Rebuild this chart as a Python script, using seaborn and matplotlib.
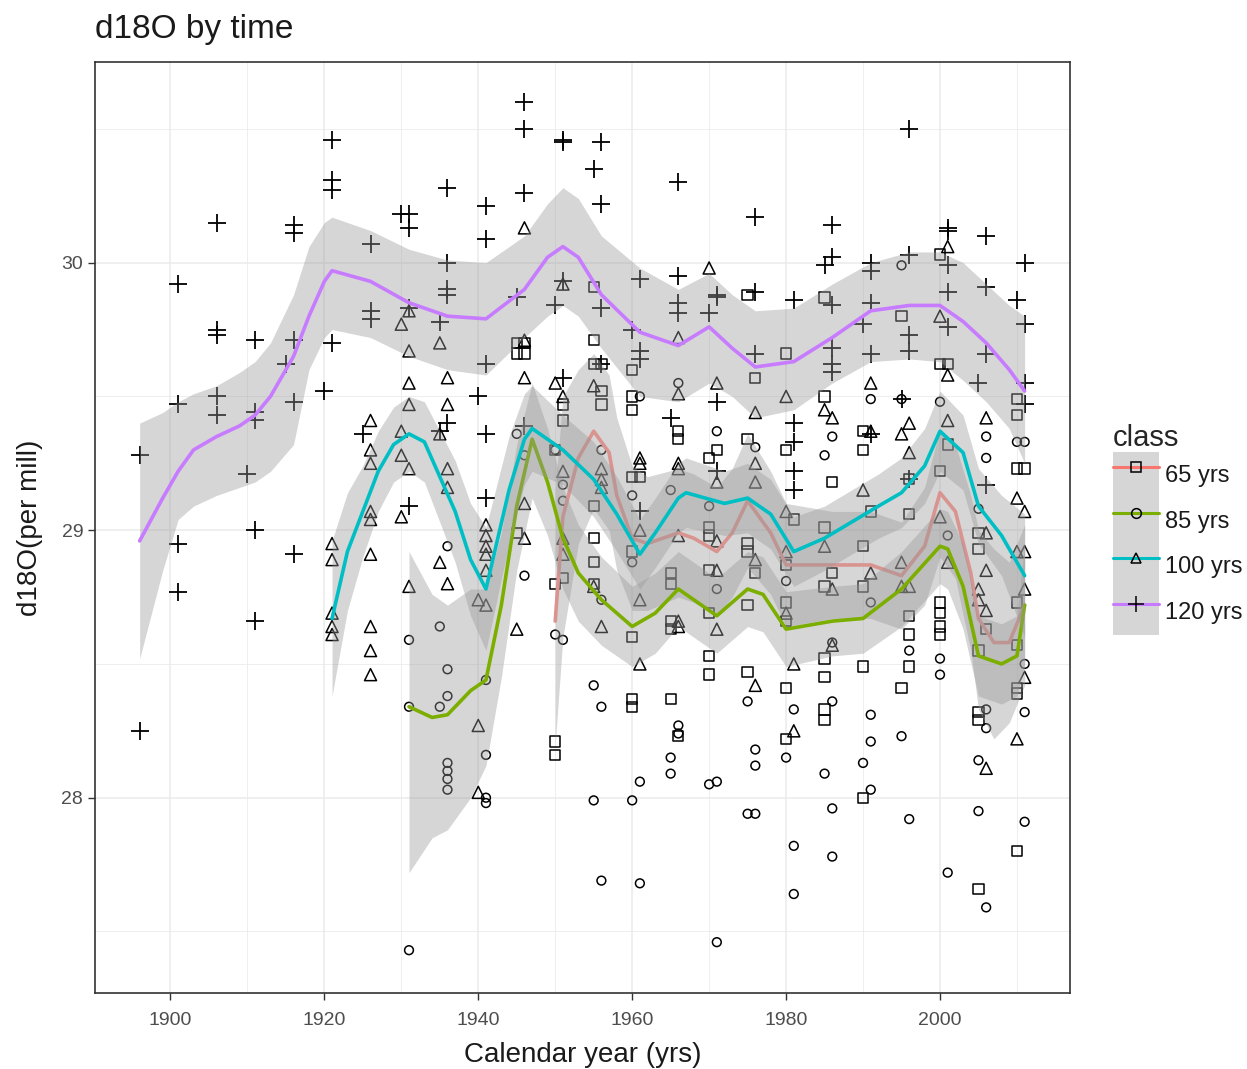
import numpy as np
import pandas as pd
import matplotlib
matplotlib.use("Agg")
import matplotlib.pyplot as plt
from matplotlib.patches import Patch
from matplotlib.lines import Line2D
from matplotlib.legend_handler import HandlerTuple
from matplotlib.ticker import MultipleLocator
import seaborn as sns

# ---------------- data: points ----------------
pts_120 = {
    1896: [29.28, 28.25], 1901: [29.92, 29.47, 28.95, 28.77],
    1906: [30.15, 29.75, 29.73, 29.50, 29.43], 1910: [29.21],
    1911: [29.71, 29.44, 29.41, 29.00, 28.66], 1915: [29.62],
    1916: [30.14, 30.11, 29.71, 29.48, 28.91], 1920: [29.52],
    1921: [30.46, 30.31, 30.27, 29.70], 1925: [29.36],
    1926: [30.07, 29.82, 29.79], 1930: [30.18],
    1931: [30.18, 30.13, 29.83, 29.09], 1935: [29.78, 29.37],
    1936: [30.28, 30.00, 29.90, 29.88, 29.40], 1940: [29.50],
    1941: [30.21, 30.09, 29.62, 29.36, 29.12], 1945: [29.87],
    1946: [30.60, 30.50, 30.26, 29.39], 1950: [29.84],
    1951: [30.46, 30.45, 29.93, 29.57], 1955: [30.35],
    1956: [30.45, 30.22, 29.83, 29.62], 1960: [29.75],
    1961: [29.94, 29.67, 29.64, 29.07], 1965: [29.42],
    1966: [30.30, 29.95, 29.85, 29.81], 1970: [29.81],
    1971: [29.88, 29.87, 29.48, 29.22], 1976: [30.17, 29.89, 29.66],
    1981: [29.86, 29.40, 29.33, 29.22, 29.15], 1985: [29.99],
    1986: [30.14, 30.02, 29.84, 29.68, 29.62, 29.59], 1990: [29.77],
    1991: [30.00, 29.97, 29.85, 29.66, 29.36], 1995: [29.49],
    1996: [30.50, 30.03, 29.73, 29.67, 29.19],
    2001: [30.13, 30.12, 29.99, 29.89, 29.76], 2005: [29.55],
    2006: [30.10, 29.91, 29.66, 29.17], 2010: [29.86],
    2011: [30.00, 29.77, 29.55, 29.47],
}
pts_100 = {
    1921: [28.95, 28.89, 28.69, 28.64, 28.61],
    1926: [29.41, 29.30, 29.25, 29.07, 29.04, 28.91, 28.64, 28.55, 28.46],
    1930: [29.77, 29.37, 29.28, 29.05],
    1931: [29.82, 29.67, 29.55, 29.47, 29.23, 28.79],
    1935: [29.70, 29.36, 28.88], 1936: [29.57, 29.47, 29.23, 29.16, 28.80],
    1940: [28.27, 28.02, 28.74], 1941: [29.02, 28.98, 28.94, 28.91, 28.85, 28.72],
    1945: [28.63], 1946: [30.13, 29.71, 29.57, 29.10, 28.97], 1950: [29.55],
    1951: [29.92, 29.50, 29.22, 28.97, 28.91], 1955: [29.54, 28.79],
    1956: [29.23, 29.19, 29.16, 28.64], 1961: [29.27, 29.25, 29.00, 28.74, 28.50],
    1966: [29.72, 29.51, 29.25, 29.23, 28.98, 28.66, 28.64], 1970: [29.98],
    1971: [29.55, 29.18, 28.96, 28.85, 28.63], 1976: [29.44, 29.18, 29.25, 28.89, 28.42],
    1980: [29.50, 29.07, 28.92, 28.69], 1981: [28.50, 28.25],
    1985: [29.45, 28.94], 1986: [29.42, 28.78, 28.57], 1990: [29.15],
    1991: [29.55, 29.37, 28.84], 1995: [29.36, 28.88, 28.79],
    1996: [29.40, 29.29, 28.79], 2000: [29.05, 29.80],
    2001: [30.06, 29.58, 29.41, 28.88], 2005: [28.78, 28.74],
    2006: [29.42, 28.99, 28.85, 28.70, 28.11], 2010: [29.12, 28.92, 28.22],
    2011: [29.07, 28.92, 28.78, 28.45],
}
pts_85 = {
    1931: [28.59, 28.34, 27.43], 1935: [28.64, 28.34],
    1936: [28.94, 28.48, 28.38, 28.13, 28.10, 28.07, 28.03],
    1941: [28.44, 28.16, 28.00, 27.98], 1945: [29.36], 1946: [29.28, 28.83],
    1950: [29.30, 28.61], 1951: [29.17, 29.11, 28.59], 1955: [28.42, 27.99],
    1956: [29.30, 28.74, 28.34, 27.69], 1960: [29.13, 28.88, 27.99],
    1961: [29.50, 28.06, 27.68], 1965: [29.15, 28.15, 28.09],
    1966: [29.55, 28.27, 28.24], 1970: [29.09, 28.05],
    1971: [29.37, 28.78, 28.06, 27.46], 1975: [28.36, 27.94],
    1976: [29.31, 28.18, 28.12, 27.94], 1980: [28.81, 28.15],
    1981: [28.33, 27.82, 27.64], 1985: [29.28, 28.09],
    1986: [29.35, 28.58, 28.36, 27.96, 27.78], 1990: [28.13],
    1991: [29.49, 28.73, 28.31, 28.21, 28.03], 1995: [29.99, 29.49, 28.23],
    1996: [28.55, 27.92], 2000: [29.48, 28.52, 28.46], 2001: [28.98, 27.72],
    2005: [29.08, 28.14, 27.95], 2006: [29.35, 29.27, 28.33, 28.26, 27.59],
    2010: [29.33], 2011: [29.33, 28.50, 28.32, 27.91],
}
pts_65 = {
    1945: [28.99, 29.66, 29.70], 1946: [29.70, 29.66],
    1950: [28.80, 28.21, 28.16, 29.30], 1951: [29.41, 29.47, 28.82],
    1955: [29.91, 29.71, 29.62, 29.09, 28.97, 28.88, 28.80],
    1956: [29.62, 29.52, 29.47],
    1960: [29.60, 29.50, 29.45, 29.20, 28.92, 28.60, 28.37, 28.34], 1961: [29.20],
    1965: [28.84, 28.80, 28.66, 28.63, 28.37], 1966: [29.37, 29.34, 28.23],
    1970: [29.27, 29.01, 28.98, 28.85, 28.69, 28.53, 28.46], 1971: [29.30],
    1975: [29.88, 29.34, 28.95, 28.92, 28.72, 28.47], 1976: [29.57, 28.84],
    1980: [29.66, 29.30, 28.87, 28.73, 28.66, 28.41, 28.22], 1981: [29.04],
    1985: [29.87, 29.50, 29.01, 28.79, 28.52, 28.45, 28.33, 28.29],
    1986: [29.18, 28.84], 1990: [29.37, 29.30, 28.94, 28.79, 28.49, 28.00],
    1991: [29.07], 1995: [29.80, 28.41], 1996: [29.19, 29.06, 28.68, 28.61, 28.49],
    2000: [30.03, 29.62, 29.22, 28.73, 28.69, 28.64, 28.61], 2001: [29.62, 29.32],
    2005: [28.99, 28.93, 28.55, 28.32, 28.29, 27.66], 2006: [28.63],
    2010: [29.49, 29.43, 29.23, 28.73, 28.57, 28.41, 28.39, 27.80], 2011: [29.23],
}

# ---------------- data: smoother lines and bands ----------------
sm65_year = [1950, 1951, 1953, 1955, 1957, 1958, 1960, 1962, 1966, 1968, 1971, 1973, 1975,
             1978, 1980, 1986, 1991, 1995, 1998, 2000, 2002, 2004, 2005, 2007, 2009, 2011]
sm65_fit = [28.66, 29.05, 29.27, 29.37, 29.29, 29.13, 28.97, 28.95, 28.99, 28.97, 28.92, 28.99, 29.11,
            28.99, 28.87, 28.87, 28.87, 28.83, 28.94, 29.14, 29.07, 28.84, 28.67, 28.58, 28.58, 28.72]
sm65_lo = [28.20, 28.60, 28.95, 29.08, 29.00, 28.85, 28.70, 28.70, 28.75, 28.73, 28.68, 28.75, 28.86,
           28.76, 28.64, 28.67, 28.67, 28.63, 28.72, 28.90, 28.82, 28.55, 28.33, 28.22, 28.28, 28.42]
sm65_hi = [29.15, 29.50, 29.60, 29.66, 29.58, 29.42, 29.24, 29.20, 29.23, 29.21, 29.16, 29.23, 29.36,
           29.22, 29.10, 29.07, 29.07, 29.03, 29.16, 29.38, 29.32, 29.13, 29.00, 28.93, 28.88, 29.02]

sm85_year = [1931, 1934, 1936, 1939, 1941, 1943, 1945, 1947, 1949, 1951, 1953, 1956, 1960, 1963, 1966,
             1968, 1971, 1975, 1977, 1980, 1986, 1990, 1995, 2000, 2001, 2003, 2005, 2008, 2010, 2011]
sm85_fit = [28.34, 28.30, 28.31, 28.40, 28.44, 28.72, 29.09, 29.34, 29.18, 28.97, 28.84, 28.74, 28.64,
            28.69, 28.78, 28.74, 28.68, 28.78, 28.76, 28.63, 28.66, 28.67, 28.78, 28.94, 28.93, 28.79,
            28.53, 28.50, 28.53, 28.72]
sm85_lo = [27.72, 27.85, 27.88, 28.00, 28.12, 28.45, 28.85, 29.12, 28.98, 28.78, 28.66, 28.57, 28.49,
           28.54, 28.64, 28.60, 28.54, 28.64, 28.62, 28.49, 28.53, 28.54, 28.64, 28.80, 28.78, 28.63,
           28.38, 28.35, 28.38, 28.50]
sm85_hi = [28.92, 28.76, 28.72, 28.78, 28.78, 28.99, 29.32, 29.55, 29.38, 29.16, 29.02, 28.90, 28.79,
           28.84, 28.92, 28.88, 28.82, 28.92, 28.90, 28.77, 28.79, 28.80, 28.92, 29.08, 29.07, 28.95,
           28.68, 28.65, 28.68, 28.95]

sm100_year = [1921, 1923, 1925, 1927, 1929, 1931, 1933, 1935, 1937, 1939, 1941, 1944, 1946, 1947, 1951,
              1955, 1958, 1961, 1963, 1966, 1967, 1972, 1975, 1978, 1981, 1985, 1992, 1995, 1998, 2000,
              2003, 2005, 2008, 2011]
sm100_fit = [28.67, 28.92, 29.07, 29.22, 29.32, 29.36, 29.33, 29.20, 29.07, 28.89, 28.78, 29.15, 29.34,
             29.38, 29.30, 29.19, 29.06, 28.91, 28.99, 29.12, 29.14, 29.10, 29.12, 29.06, 28.92, 28.97,
             29.09, 29.14, 29.24, 29.37, 29.29, 29.09, 28.98, 28.83]
sm100_lo = [28.38, 28.70, 28.90, 29.07, 29.18, 29.22, 29.18, 29.03, 28.88, 28.68, 28.55, 28.95, 29.17,
            29.22, 29.17, 29.05, 28.92, 28.78, 28.86, 28.99, 29.01, 28.98, 28.99, 28.93, 28.79, 28.85,
            28.97, 29.01, 29.10, 29.22, 29.15, 28.95, 28.83, 28.60]
sm100_hi = [28.96, 29.14, 29.24, 29.37, 29.46, 29.50, 29.48, 29.37, 29.26, 29.10, 29.01, 29.35, 29.51,
            29.54, 29.43, 29.33, 29.20, 29.04, 29.12, 29.25, 29.27, 29.22, 29.25, 29.19, 29.05, 29.09,
            29.21, 29.27, 29.38, 29.52, 29.43, 29.23, 29.13, 29.06]

sm120_year = [1896, 1899, 1901, 1903, 1906, 1909, 1911, 1913, 1916, 1918, 1920, 1921, 1926, 1931, 1936,
              1941, 1946, 1949, 1951, 1953, 1956, 1961, 1966, 1970, 1973, 1976, 1981, 1986, 1991, 1996,
              2000, 2003, 2006, 2009, 2011]
sm120_fit = [28.96, 29.12, 29.22, 29.30, 29.35, 29.39, 29.43, 29.50, 29.65, 29.80, 29.93, 29.97, 29.93,
             29.85, 29.80, 29.79, 29.90, 30.02, 30.06, 30.02, 29.88, 29.74, 29.69, 29.76, 29.68, 29.61,
             29.63, 29.72, 29.82, 29.84, 29.84, 29.78, 29.70, 29.60, 29.52]
sm120_lo = [28.52, 28.85, 29.04, 29.09, 29.13, 29.16, 29.18, 29.22, 29.32, 29.60, 29.72, 29.75, 29.72,
            29.65, 29.60, 29.58, 29.72, 29.80, 29.84, 29.80, 29.68, 29.50, 29.48, 29.55, 29.50, 29.42,
            29.45, 29.55, 29.63, 29.64, 29.63, 29.56, 29.48, 29.38, 29.25]
sm120_hi = [29.40, 29.44, 29.48, 29.51, 29.54, 29.59, 29.63, 29.70, 29.88, 30.06, 30.15, 30.17, 30.12,
            30.05, 30.01, 30.00, 30.10, 30.22, 30.28, 30.24, 30.10, 29.98, 29.90, 29.96, 29.88, 29.82,
            29.83, 29.92, 30.00, 30.04, 30.04, 30.00, 29.92, 29.84, 29.80]

classes = ["65 yrs", "85 yrs", "100 yrs", "120 yrs"]
line_colors = ["#F8766D", "#7CAE00", "#00BFC4", "#C77CFF"]
plot_line_colors = ["#D99490", "#7CAE00", "#00BFC4", "#C77CFF"]  # red drawn under later ribbons
markers = ["s", "o", "^", "+"]
title = "d18O by time"
xlabel = "Calendar year (yrs)"
ylabel = "d18O(per mill)"

# ---------------- build tables ----------------
rows = []
for cls, d in zip(classes, [pts_65, pts_85, pts_100, pts_120]):
    for yr, vals in d.items():
        for v in vals:
            rows.append((cls, yr, v))
df = pd.DataFrame(rows, columns=["class", "year", "d18O"])

smooth = {
    "65 yrs": (sm65_year, sm65_fit, sm65_lo, sm65_hi),
    "85 yrs": (sm85_year, sm85_fit, sm85_lo, sm85_hi),
    "100 yrs": (sm100_year, sm100_fit, sm100_lo, sm100_hi),
    "120 yrs": (sm120_year, sm120_fit, sm120_lo, sm120_hi),
}

# ---------------- plot ----------------
sns.set_theme(style="white")
plt.rcParams["font.family"] = ["Liberation Sans", "DejaVu Sans"]

fig = plt.figure(figsize=(12.47, 10.69), dpi=100)
ax = fig.add_axes([0.0762, 0.0711, 0.7819, 0.8709])

grid_col = "#EBEBEB"
ax.set_xlim(1890.2, 2016.9)
ax.set_ylim(27.27, 30.75)
ax.xaxis.set_major_locator(MultipleLocator(20))
ax.xaxis.set_minor_locator(MultipleLocator(10))
ax.yaxis.set_major_locator(MultipleLocator(1))
ax.yaxis.set_minor_locator(MultipleLocator(0.5))
ax.grid(which="major", color=grid_col, linewidth=1.1)
ax.grid(which="minor", color=grid_col, linewidth=0.6)
ax.set_axisbelow(True)

# points
for cls, mk in zip(classes, markers):
    sub = df[df["class"] == cls]
    if mk == "+":
        sns.scatterplot(data=sub, x="year", y="d18O", marker="+", s=150, color="black",
                        linewidth=1.3, ax=ax, zorder=2, legend=False)
    else:
        size = {"s": 55, "o": 40, "^": 75}[mk]
        sns.scatterplot(data=sub, x="year", y="d18O", marker=mk, s=size, color="black",
                        facecolor="none", edgecolor="black", linewidth=1.1, ax=ax,
                        zorder=2, legend=False)

# smoothers: ribbon then line per group (ggplot order)
z = 3
for cls, col in zip(classes, plot_line_colors):
    yr, fit, lo, hi = smooth[cls]
    ax.fill_between(yr, lo, hi, color="#999999", alpha=0.4, linewidth=0, zorder=z)
    sns.lineplot(x=yr, y=fit, color=col, linewidth=2.6, ax=ax, zorder=z + 0.5)
    z += 1

for sp in ax.spines.values():
    sp.set_color("#333333")
    sp.set_linewidth(1.2)

ax.tick_params(axis="both", which="major", length=5, width=1, color="#333333",
               labelsize=14, labelcolor="#4D4D4D", bottom=True, left=True)
ax.tick_params(axis="x", which="major", pad=9)
ax.tick_params(axis="both", which="minor", length=0)
ax.set_xlabel(xlabel, fontsize=20, color="#1A1A1A", labelpad=9)
ax.set_ylabel(ylabel, fontsize=20, color="#1A1A1A", labelpad=13)
fig.text(0.0762, 0.972, title, fontsize=24, color="#1A1A1A", ha="left", va="center")

# legend
handles = []
for col, mk in zip(line_colors, markers):
    p = Patch(facecolor="#999999", alpha=0.4, edgecolor="none")
    ms = 12 if mk == "+" else 7
    l = Line2D([], [], color=col, linewidth=2.2, marker=mk, markersize=ms,
               markerfacecolor="none", markeredgecolor="black", markeredgewidth=1.1)
    handles.append((p, l))
leg = fig.legend(handles, classes, handler_map={tuple: HandlerTuple(ndivide=1, pad=0)},
                 loc="upper left", bbox_to_anchor=(1113 / 1247, 1 - 424 / 1069), frameon=False,
                 fontsize=17, title="class", title_fontsize=21, handlelength=1.95,
                 handleheight=2.6, labelspacing=0.0, handletextpad=0.25, borderpad=0.0,
                 borderaxespad=0.0)
leg._legend_box.align = "left"
for t in leg.get_texts():
    t.set_color("#1A1A1A")

fig.savefig("out.png", dpi=100)
